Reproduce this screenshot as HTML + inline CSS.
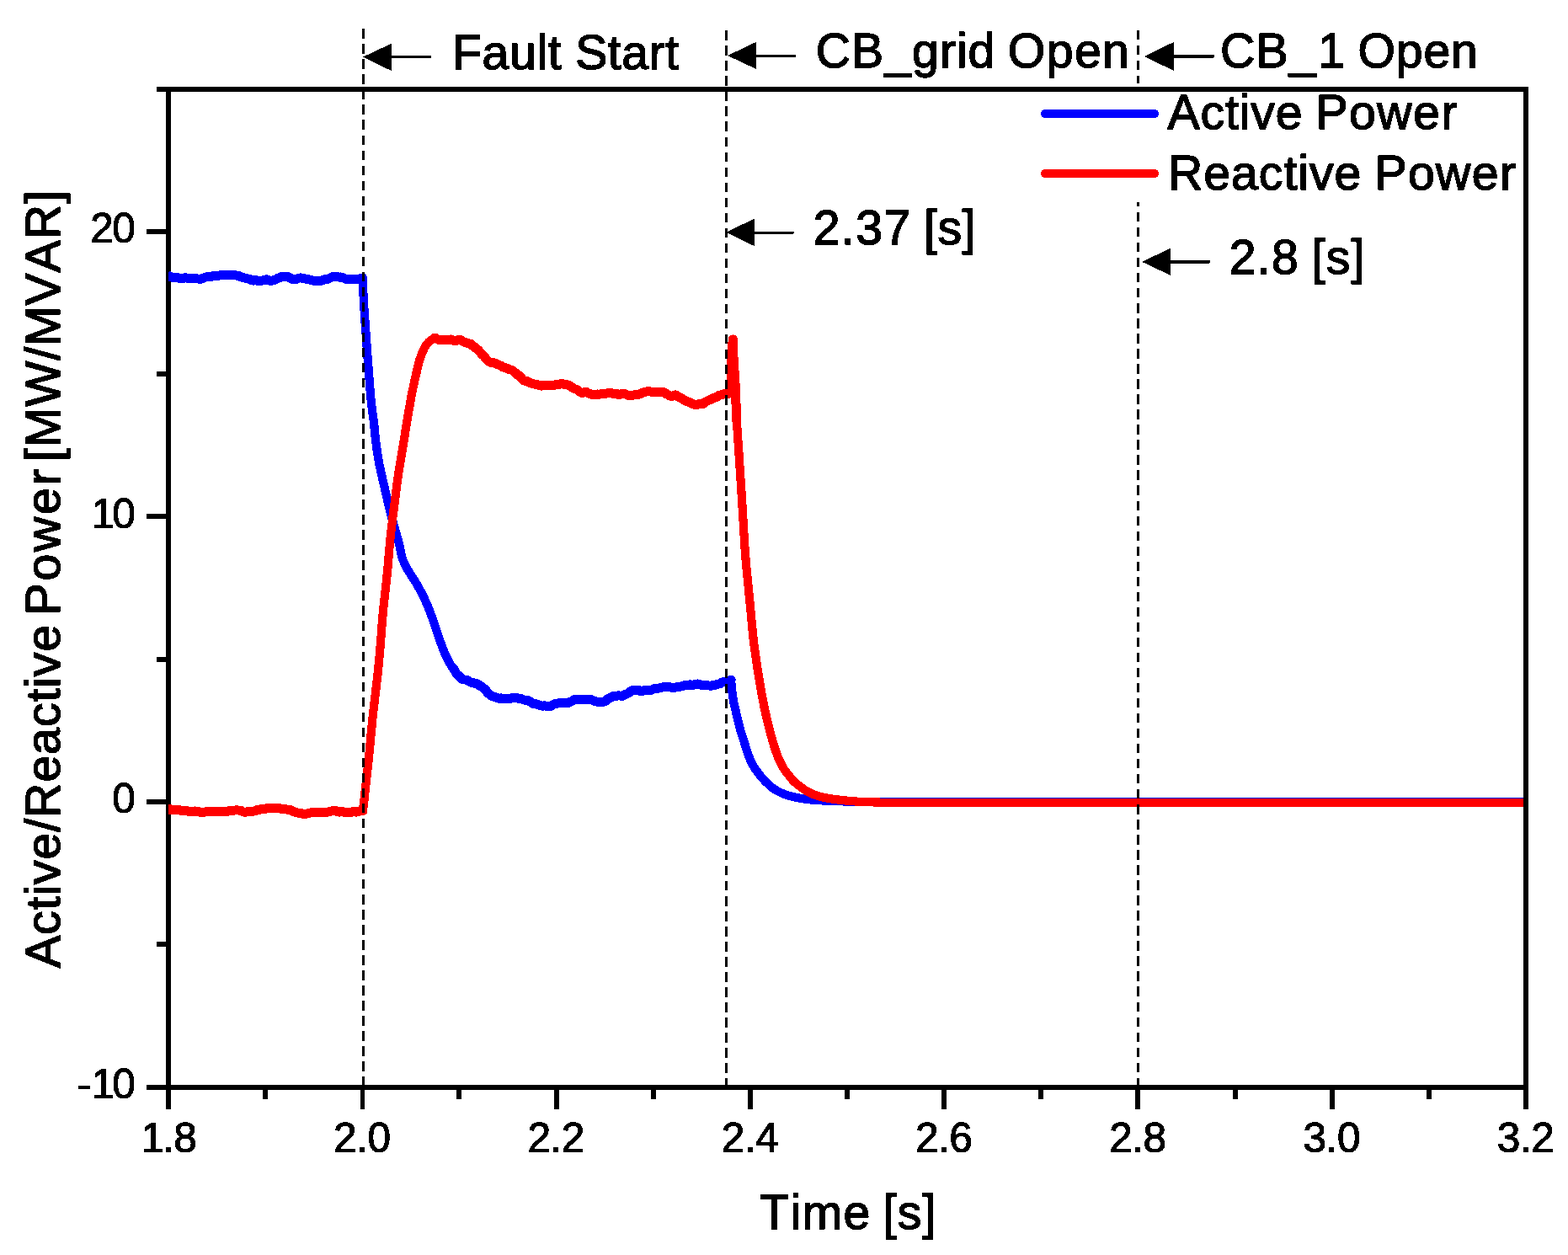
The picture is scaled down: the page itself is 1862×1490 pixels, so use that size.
<!DOCTYPE html>
<html lang="en"><head><meta charset="utf-8"><title>Active/Reactive Power</title>
<style>html,body{margin:0;padding:0;background:#fff}body{width:1862px;height:1490px;overflow:hidden}svg{display:block}text{font-family:"Liberation Sans",sans-serif;fill:#000;stroke:#000;stroke-linejoin:miter;stroke-miterlimit:2;font-kerning:none;white-space:pre}.tk{font-size:49.6px;stroke-width:1.2px}.lb{font-size:57.2px;stroke-width:1.5px}</style></head><body>
<svg width="1862" height="1490" viewBox="0 0 1862 1490">
<rect width="1862" height="1490" fill="#fff"/>
<defs><filter id="al" x="-10%" y="-30%" width="120%" height="160%" color-interpolation-filters="sRGB"><feComponentTransfer><feFuncA type="discrete" tableValues="0 1"/></feComponentTransfer></filter></defs>
<defs><clipPath id="pc"><rect x="200.0" y="106.0" width="1612.0" height="1185.0"/></clipPath></defs>
<g stroke="#000" fill="none" stroke-linecap="butt" shape-rendering="crispEdges">
<line x1="200" y1="103" x2="200" y2="1317" stroke-width="6"/>
<line x1="174" y1="1291" x2="1812" y2="1291" stroke-width="6"/>
<line x1="174" y1="952" x2="200" y2="952" stroke-width="6"/>
<line x1="174" y1="613" x2="200" y2="613" stroke-width="6"/>
<line x1="174" y1="275" x2="200" y2="275" stroke-width="6"/>
<line x1="186" y1="1121" x2="200" y2="1121" stroke-width="6"/>
<line x1="186" y1="783" x2="200" y2="783" stroke-width="6"/>
<line x1="186" y1="444" x2="200" y2="444" stroke-width="6"/>
<line x1="315" y1="1291" x2="315" y2="1305" stroke-width="6"/>
<line x1="430.5" y1="1291" x2="430.5" y2="1317" stroke-width="5"/>
<line x1="545" y1="1291" x2="545" y2="1305" stroke-width="6"/>
<line x1="661" y1="1291" x2="661" y2="1317" stroke-width="6"/>
<line x1="776" y1="1291" x2="776" y2="1305" stroke-width="6"/>
<line x1="891" y1="1291" x2="891" y2="1317" stroke-width="6"/>
<line x1="1006" y1="1291" x2="1006" y2="1305" stroke-width="6"/>
<line x1="1121" y1="1291" x2="1121" y2="1317" stroke-width="6"/>
<line x1="1236" y1="1291" x2="1236" y2="1305" stroke-width="6"/>
<line x1="1351" y1="1291" x2="1351" y2="1317" stroke-width="6"/>
<line x1="1467" y1="1291" x2="1467" y2="1305" stroke-width="6"/>
<line x1="1582" y1="1291" x2="1582" y2="1317" stroke-width="6"/>
<line x1="1697" y1="1291" x2="1697" y2="1305" stroke-width="6"/>
</g>
<g clip-path="url(#pc)" fill="none" stroke-linejoin="round" stroke-linecap="round" shape-rendering="crispEdges">
<g stroke="#0000ff">
<polyline stroke-width="11.0" points="200.0,328.2 202.0,327.9 203.7,328.8 205.5,329.6 207.3,329.8 209.2,329.8 211.0,329.7 212.8,330.3 214.7,330.9 216.6,330.8 218.3,330.1 220.2,329.6 222.0,330.1 223.8,330.3 225.7,330.1 227.6,330.3 229.5,330.3 231.4,330.5 233.3,330.8 235.1,331.0 237.0,331.4 238.9,331.2 240.8,330.4 242.7,329.6 244.6,328.9 246.6,328.7 248.7,329.0 250.5,328.6 252.3,327.8 254.3,327.5 256.3,327.5 258.3,327.5 260.1,327.2 261.9,326.7 263.7,326.6 265.4,326.9 267.4,326.8 269.3,326.2 271.2,326.3 273.0,326.8 274.8,326.8 276.7,326.8 278.5,326.9 280.4,327.0 282.3,327.1 284.1,327.7 285.9,328.7 287.6,329.4 289.5,329.7 291.5,330.2 293.5,330.8 295.5,331.3 297.3,331.8 298.9,332.7 300.7,333.1 302.5,332.7 304.1,332.8 305.9,333.3 307.8,333.2 309.8,333.0 311.9,333.0 313.9,332.5 315.7,331.9 317.5,331.9 319.1,332.7 320.8,333.2 322.7,333.2 324.4,332.9 326.1,332.4 327.8,331.6 329.5,330.5 331.5,329.9 333.3,329.3 334.9,328.4 336.6,328.1 338.5,328.2 340.5,328.5 342.5,328.9 344.3,329.8 345.9,331.0 347.8,331.6 349.6,331.7 351.3,331.5 353.1,330.9 354.8,330.2 356.7,329.9 358.6,330.3 360.4,330.7 362.1,330.9 364.0,331.3 366.0,331.8 368.1,332.1 370.1,332.5 372.0,333.2 373.9,333.5 375.8,333.5 377.6,333.6 379.5,333.6 381.3,333.4 383.0,332.8 384.7,332.0 386.5,331.6 388.3,331.5 390.1,330.9 391.8,330.0 393.5,329.2 395.3,328.5 397.2,328.0 399.1,328.0 400.9,328.6 402.6,329.1 404.4,329.0 406.3,329.2 408.1,330.1 409.8,331.0 411.6,331.5 413.4,331.8 415.3,332.0 417.2,331.6 419.2,331.3 421.1,331.6 422.9,331.9 424.6,331.7 426.0,331.1 427.7,330.8 429.1,330.5 430.5,330.0"/>
<polyline stroke-width="10.2" points="430.5,330.0 430.6,331.9 430.7,333.7 430.8,335.6 430.9,337.4 430.9,339.2 431.0,341.1 431.1,342.9 431.2,344.7 431.3,346.6 431.4,348.4 431.5,350.3 431.6,352.2 431.7,354.1 431.8,356.0 431.9,358.0 432.0,360.0 432.1,361.8 432.2,363.6 432.3,365.4 432.5,367.2 432.6,369.0 432.7,370.9 432.8,372.7 433.0,374.6 433.1,376.5 433.2,378.4 433.4,380.3 433.5,382.2 433.6,384.2 433.8,386.1 433.9,388.1 434.1,390.0 434.2,392.0 434.4,394.0 434.5,396.0 434.7,398.0 434.8,400.0 434.9,401.8 435.1,403.7 435.2,405.6 435.3,407.5 435.5,409.5 435.6,411.4 435.8,413.4 435.9,415.4 436.1,417.4 436.2,419.4 436.3,421.4 436.5,423.4 436.6,425.4 436.8,427.5 436.9,429.5 437.1,431.4 437.2,433.4 437.4,435.4 437.5,437.3 437.7,439.2 437.8,441.1 437.9,443.0 438.1,444.8 438.2,446.6 438.4,448.3 438.5,450.0 438.7,452.1 438.8,454.2 439.0,456.2 439.1,458.2 439.3,460.1 439.5,462.1 439.6,464.0 439.8,465.9 439.9,467.7 440.1,469.5 440.2,471.3 440.4,473.1 440.6,474.9 440.7,476.6 440.9,478.3 441.1,480.0 441.3,482.0 441.6,483.9 441.8,485.7 442.1,487.6 442.3,489.4 442.6,491.1 442.8,492.9 443.1,494.6 443.3,496.4 443.6,498.2 443.8,500.0 444.0,501.8 444.2,503.6 444.4,505.4 444.5,507.3 444.7,509.1 444.8,510.9 445.0,512.7 445.2,514.6 445.4,516.4 445.6,518.4 445.8,520.3 446.0,522.1 446.3,523.9 446.5,525.8 446.7,527.7 447.0,529.6 447.3,531.5 447.5,533.5 447.8,535.4 448.1,537.4 448.4,539.3 448.7,541.3 449.0,543.2 449.4,545.2 449.7,547.1 450.1,549.0 450.4,551.0 450.8,553.0 451.3,555.1 451.7,557.1 452.1,559.1 452.6,561.1 453.0,563.1 453.5,565.1 453.9,567.0 454.3,568.9 454.7,570.6 455.1,572.4 455.5,574.0 456.0,576.1 456.4,578.0 456.8,579.8 457.2,581.6 457.7,583.4 458.1,585.3 458.6,587.4 459.0,589.0 459.4,590.7 459.8,592.5 460.2,594.4 460.7,596.3 461.1,598.2 461.6,600.2 462.0,602.2 462.5,604.3 463.0,606.3 463.5,608.3 464.0,610.3 464.5,612.3 465.0,614.2 465.5,616.2 466.1,618.2 466.7,620.2 467.3,622.3 467.9,624.4 468.5,626.5 469.1,628.6 469.7,630.6 470.3,632.6 470.8,634.5 471.4,636.3 471.8,638.0 472.3,639.6 472.7,641.1 473.2,643.2 473.7,644.9 474.1,646.6 474.5,648.2 474.9,650.0 475.3,651.8 475.6,653.7 476.0,655.6 476.4,657.5 476.8,659.4 477.3,661.2 477.9,662.9 478.4,664.6 479.1,666.2 479.8,667.8 480.5,669.5 481.3,671.1 482.1,672.7 482.9,674.2 483.8,675.8 484.8,677.4 485.7,678.9 486.7,680.5 487.6,682.0 488.5,683.5 489.4,684.9 490.3,686.2 491.3,687.6 492.2,689.1 493.2,690.6 494.2,692.3 495.1,693.8 495.9,695.4 496.9,697.0 497.8,698.7 498.8,700.5 499.7,702.3 500.7,704.2 501.6,706.0 502.6,707.9 503.5,709.8 504.4,711.6 505.2,713.4 506.0,715.1 506.8,716.9 507.5,718.7 508.3,720.4 509.0,722.2 509.7,724.0 510.4,725.7 511.1,727.5 511.7,729.3 512.4,731.0 513.0,732.8 513.7,734.6 514.3,736.4 514.9,738.1 515.5,739.9 516.1,741.6 516.7,743.4 517.2,745.1 517.8,746.9 518.3,748.7 518.9,750.4 519.5,752.2 520.1,753.9 520.7,755.7 521.3,757.5 522.0,759.3 522.6,761.1 523.3,763.0 524.0,764.8 524.6,766.6 525.3,768.4 526.0,770.2 526.7,771.9 527.4,773.6 528.1,775.3 528.8,776.9 529.7,778.9 530.7,780.9 531.7,782.8 532.7,784.7 533.6,786.5 534.6,788.2 535.4,789.6 536.2,790.9 537.1,792.2 538.0,793.3 538.8,794.3"/>
<polyline stroke-width="11.0" points="538.8,794.3 540.0,795.8 540.9,797.6 541.7,799.4 543.0,800.9 544.7,802.1 546.0,803.5 547.2,804.9 548.7,806.1 550.5,806.8 552.6,807.1 554.5,807.6 556.2,808.5 558.0,809.5 559.8,810.2 561.6,810.7 563.4,811.1 565.2,811.4 566.9,811.9 568.4,813.0 569.8,814.2 571.6,814.8 573.0,815.9 574.2,817.3 576.0,818.4 577.5,819.8 578.3,821.8 579.6,823.3 581.4,824.3 582.7,825.7 584.3,826.6 586.2,826.9 587.8,827.7 589.5,828.3 591.3,828.9 593.1,829.3 595.1,828.9 596.8,829.2 598.6,829.7 600.5,829.4 602.4,829.1 604.4,829.4 606.3,829.2 608.1,828.5 610.0,828.1 611.8,828.1 613.8,828.5 615.6,829.3 617.5,829.7 619.5,829.8 621.2,830.6 623.0,831.1 624.9,831.1 626.9,831.6 628.7,832.4 630.3,833.5 631.9,834.9 633.9,835.5 635.6,835.6 637.3,836.2 639.0,836.7 640.8,837.1 642.5,837.9 644.4,838.1 646.2,837.9 647.9,838.0 649.6,838.4 651.5,838.7 653.4,838.6 655.1,837.9 656.6,836.6 658.3,835.9 660.2,835.7 661.9,835.1 663.6,834.8 665.5,834.8 667.3,834.3 669.1,834.1 670.9,834.4 672.7,834.7 674.4,834.6 675.9,833.8 677.6,833.0 679.2,832.5 680.7,831.5 682.2,830.7 684.1,830.5 685.8,830.6 687.5,830.7 689.2,830.5 691.0,830.7 692.9,830.7 694.8,830.1 696.5,830.3 698.2,831.0 700.2,830.8 702.2,830.7 704.1,831.5 705.8,832.3 707.6,832.8 709.3,833.3 711.1,833.5 712.8,833.0 714.5,833.0 716.1,833.2 717.8,832.8 719.3,832.1 720.7,830.9 722.1,829.6 723.9,828.7 725.7,828.0 727.4,827.0 729.2,826.2 731.1,826.2 732.9,826.1 734.8,825.9 736.7,826.1 738.8,826.3 740.5,825.7 742.1,824.6 744.0,823.9 746.0,823.2 747.6,821.9 749.1,820.5 750.8,819.8 752.7,820.0 754.6,819.8 756.5,819.2 758.4,819.5 760.1,820.4 762.0,820.6 763.9,820.1 765.5,819.5 767.3,819.3 769.2,819.4 771.1,819.5 772.9,819.3 774.7,818.6 776.4,817.9 778.1,817.5 779.8,817.0 781.7,817.1 783.4,816.9 785.2,816.2 786.9,815.9 788.7,815.7 790.4,815.6 792.3,815.6 794.2,815.7 796.0,815.9 797.8,816.2 799.7,816.1 801.6,816.1 803.2,815.9 805.0,815.7 806.7,815.3 808.5,815.0 810.3,814.7 812.0,813.9 813.7,813.8 815.5,814.0 817.4,813.4 819.3,812.9 821.2,813.1 823.1,813.2 824.9,812.8 826.7,812.2 828.6,812.0 830.5,812.5 832.3,813.1 834.2,813.4 836.1,813.2 837.9,813.2 839.6,813.7 841.3,813.9 842.9,814.1 844.6,814.1 846.2,813.7 848.0,813.5 850.0,813.2 851.9,812.4 853.9,811.9 855.8,811.3 857.3,810.1 859.1,809.5 860.9,809.8 862.6,810.3 864.1,810.0 865.4,808.7 866.6,807.6 868.1,807.0"/>
<polyline stroke-width="10.2" points="868.1,807.0 868.3,808.9 868.4,810.8 868.6,812.8 868.7,814.7 868.9,816.6 869.1,818.5 869.3,820.4 869.5,822.2 869.7,823.9 870.0,825.6 870.2,827.4 870.5,829.1 870.8,830.8 871.1,832.5 871.4,834.2 871.8,836.0 872.2,837.7 872.6,839.4 873.0,841.1 873.4,842.9 873.8,844.6 874.2,846.3 874.6,848.0 875.0,849.7 875.4,851.5 875.8,853.2 876.2,854.9 876.6,856.6 877.0,858.3 877.5,860.1 877.9,861.8 878.4,863.5 878.8,865.3 879.3,867.0 879.8,868.7 880.4,870.6 880.9,872.4 881.5,874.3 882.1,876.1 882.8,878.0 883.4,880.0 883.9,881.7 884.5,883.4 885.0,885.1 885.5,886.9 886.1,888.8 886.7,890.6 887.3,892.4 887.9,894.1 888.5,895.8 889.2,897.5 889.8,899.2 890.5,900.9 891.2,902.6 892.0,904.2 892.7,905.8 893.4,907.3 894.2,908.7 895.2,910.3 896.1,911.8 897.1,913.2 898.1,914.6 899.2,916.0 900.2,917.4 901.3,918.8 902.3,920.2 903.4,921.6 904.6,923.0 905.7,924.3 906.9,925.6 908.1,926.9 909.3,928.1 910.5,929.3 911.8,930.5 913.0,931.6 914.3,932.7 915.5,933.8 916.8,934.9 918.1,935.8 919.4,936.8 920.8,937.7 922.3,938.6 923.9,939.5 925.5,940.3 927.1,941.1 928.7,941.8 930.3,942.5 932.0,943.1 933.6,943.7 935.3,944.3 937.0,944.8 938.9,945.3 940.8,945.8 942.7,946.2 944.6,946.6 946.5,947.0 948.1,947.3 949.7,947.7 951.4,948.0 953.0,948.3 954.7,948.5 956.4,948.8 958.1,949.0 959.8,949.2 961.6,949.4 963.4,949.5 965.2,949.6 967.0,949.8 968.8,949.9 970.6,950.0 972.4,950.2 974.2,950.3 976.0,950.4 977.9,950.5 979.8,950.6 981.7,950.7 983.5,950.8 985.4,950.9 987.3,950.9 989.2,951.0 991.1,951.1 993.1,951.1 995.0,951.2 997.0,951.2 998.9,951.3 1000.8,951.4 1002.6,951.4 1004.5,951.5 1006.3,951.5 1008.2,951.5 1010.1,951.6 1012.0,951.6 1014.0,951.7 1016.0,951.7 1017.7,951.7 1019.4,951.8 1021.0,951.8 1022.7,951.8 1024.4,951.8 1026.2,951.9 1028.0,951.9 1029.8,951.9 1031.7,951.9 1033.6,952.0 1035.7,952.0 1037.8,952.0 1040.0,952.0 1041.6,952.0 1043.2,952.0 1044.9,952.0 1046.6,952.0 1048.4,952.0 1050.3,952.0 1052.1,952.0 1054.1,952.0 1056.0,952.0 1058.0,952.0 1060.0,952.0 1062.1,952.0 1064.1,952.0 1066.2,952.0 1068.3,952.0 1070.4,952.0 1072.6,952.0 1074.7,952.0 1076.8,952.0 1079.0,952.0 1081.1,952.0 1083.3,952.0 1085.4,952.0 1087.6,952.0 1089.7,952.0 1091.8,952.0 1093.9,952.0 1095.9,952.0 1098.0,952.0 1100.0,952.0"/>
<polyline stroke-width="10.2" points="1100.0,952.0 1812.0,952.0"/>
</g>
<g stroke="#ff0000">
<polyline stroke-width="11.0" points="200.0,961.3 202.0,960.7 204.0,961.3 205.9,961.7 207.9,961.7 209.9,961.4 211.9,961.3 213.8,961.9 215.8,962.7 217.8,963.0 219.7,962.6 221.6,962.5 223.5,963.2 225.4,963.4 227.3,963.2 229.3,963.2 231.3,963.0 233.2,963.1 235.1,963.5 237.0,963.9 238.9,964.6 240.8,964.7 242.7,964.2 244.6,963.7 246.5,963.4 248.4,963.5 250.3,964.0 252.2,963.8 254.1,963.2 256.0,963.2 257.9,963.5 259.8,963.8 261.7,963.7 263.6,963.4 265.6,963.4 267.5,963.7 269.5,963.6 271.4,962.7 273.3,962.5 275.2,962.6 277.1,962.2 278.9,962.0 280.8,961.9 282.7,962.0 284.6,962.1 286.5,962.6 288.3,963.6 290.1,964.1 291.9,964.1 293.8,963.9 295.5,963.8 297.2,963.4 298.9,963.1 300.8,963.2 302.6,962.9 304.2,961.8 305.9,961.3 307.8,961.3 309.6,960.9 311.5,960.7 313.3,960.9 315.0,960.6 316.8,959.8 318.6,959.5 320.6,959.8 322.5,959.8 324.3,959.7 326.2,959.6 328.0,959.7 329.7,959.7 331.5,959.6 333.2,960.0 335.0,960.5 336.7,960.4 338.5,960.7 340.2,961.0 342.0,961.2 343.8,961.3 345.5,961.8 347.1,963.0 348.8,963.7 350.5,964.3 352.3,964.9 354.1,965.1 355.9,965.1 357.6,965.4 359.3,966.1 361.1,966.4 362.9,966.3 364.7,966.0 366.4,965.6 368.1,965.1 369.8,964.6 371.6,964.6 373.6,964.5 375.6,964.2 377.6,964.3 379.5,964.5 381.5,964.7 383.5,964.4 385.5,964.0 387.2,964.0 389.0,964.1 390.7,963.8 392.5,963.3 394.2,962.9 396.0,962.7 397.7,962.6 399.5,962.9 401.2,963.7 403.0,964.1 404.8,963.8 406.6,963.7 408.4,964.1 410.1,964.5 411.8,964.7 413.5,964.8 415.5,964.7 417.4,964.1 419.3,963.6 421.2,963.8 423.0,964.1 424.7,963.8 426.3,963.2 427.9,963.0 429.5,962.8 431.0,962.5"/>
<polyline stroke-width="10.2" points="431.0,962.5 431.2,960.6 431.4,958.7 431.6,956.8 431.8,955.0 432.0,953.1 432.3,951.2 432.5,949.4 432.7,947.4 432.9,945.4 433.1,943.4 433.4,941.3 433.6,939.1 433.8,937.4 434.0,935.7 434.2,933.9 434.4,932.1 434.6,930.2 434.8,928.3 435.0,926.4 435.2,924.4 435.5,922.4 435.7,920.4 435.9,918.4 436.1,916.4 436.4,914.3 436.6,912.3 436.8,910.2 437.0,908.2 437.2,906.1 437.5,904.1 437.7,902.1 437.9,900.1 438.1,898.1 438.3,896.1 438.5,894.2 438.7,892.2 438.9,890.3 439.1,888.4 439.2,886.5 439.4,884.6 439.6,882.7 439.8,880.9 439.9,879.0 440.1,877.1 440.3,875.2 440.5,873.3 440.6,871.4 440.8,869.4 441.0,867.5 441.2,865.5 441.4,863.5 441.6,861.5 441.8,859.5 442.0,857.4 442.2,855.3 442.4,853.2 442.6,851.4 442.8,849.6 443.0,847.8 443.2,846.0 443.4,844.2 443.6,842.3 443.8,840.4 444.0,838.5 444.3,836.6 444.5,834.6 444.7,832.7 444.9,830.7 445.2,828.8 445.4,826.8 445.7,824.8 445.9,822.8 446.1,820.8 446.4,818.8 446.6,816.8 446.8,814.8 447.1,812.8 447.3,810.8 447.5,808.7 447.8,806.7 448.0,804.7 448.2,802.7 448.5,800.7 448.7,798.7 448.9,796.7 449.1,794.7 449.3,792.7 449.5,790.8 449.7,788.8 449.9,786.8 450.1,784.9 450.3,782.9 450.4,780.9 450.6,778.9 450.8,776.9 451.0,774.9 451.1,772.9 451.3,770.9 451.5,768.9 451.6,766.9 451.8,764.9 451.9,762.9 452.1,760.9 452.3,758.9 452.4,756.9 452.6,754.9 452.7,752.9 452.9,750.9 453.0,748.9 453.2,746.9 453.3,745.0 453.5,743.0 453.6,741.1 453.8,739.2 454.0,737.3 454.1,735.4 454.3,733.5 454.4,731.6 454.6,729.8 454.8,728.0 454.9,726.2 455.1,724.4 455.3,722.3 455.5,720.2 455.7,718.2 455.9,716.1 456.1,714.1 456.4,712.2 456.6,710.2 456.8,708.2 457.0,706.3 457.2,704.4 457.4,702.5 457.7,700.6 457.9,698.7 458.1,696.8 458.3,694.9 458.5,693.0 458.7,691.2 458.9,689.3 459.1,687.4 459.3,685.6 459.5,683.7 459.7,681.9 459.9,680.0 460.1,678.0 460.3,676.0 460.5,674.0 460.6,672.1 460.8,670.1 461.0,668.2 461.1,666.2 461.3,664.3 461.4,662.4 461.6,660.4 461.7,658.5 461.9,656.6 462.1,654.7 462.2,652.7 462.4,650.8 462.6,648.9 462.7,646.9 462.9,645.0 463.1,643.1 463.3,641.1 463.5,639.2 463.7,637.3 463.9,635.4 464.1,633.5 464.3,631.5 464.6,629.6 464.8,627.7 465.0,625.8 465.2,623.9 465.5,621.9 465.7,620.0 465.9,618.1 466.2,616.2 466.4,614.3 466.6,612.3 466.9,610.4 467.1,608.5 467.4,606.6 467.6,604.6 467.9,602.7 468.1,600.8 468.3,598.9 468.6,597.0 468.8,595.0 469.1,593.1 469.3,591.2 469.6,589.3 469.8,587.4 470.1,585.4 470.3,583.5 470.6,581.6 470.8,579.7 471.1,577.8 471.3,575.8 471.6,573.9 471.9,572.0 472.1,570.1 472.4,568.2 472.7,566.2 472.9,564.3 473.2,562.4 473.5,560.5 473.8,558.6 474.1,556.6 474.4,554.6 474.7,552.6 475.0,550.6 475.4,548.6 475.7,546.6 476.0,544.6 476.4,542.5 476.7,540.5 477.0,538.5 477.4,536.6 477.7,534.6 478.0,532.7 478.4,530.8 478.7,528.9 479.0,527.1 479.3,525.3 479.6,523.6 479.8,521.9 480.1,520.3 480.4,518.2 480.8,516.2 481.1,514.3 481.3,512.4 481.6,510.6 481.9,508.8 482.2,507.1 482.4,505.3 482.7,503.6 483.0,501.8 483.3,500.0 483.6,498.2 483.9,496.3 484.2,494.5 484.5,492.7 484.9,490.9 485.2,489.0 485.5,487.2 485.8,485.4 486.1,483.6 486.5,481.8 486.8,480.0 487.1,478.1 487.5,476.2 487.8,474.3 488.2,472.4 488.5,470.5 488.9,468.7 489.2,466.8 489.6,464.9 490.0,462.9 490.4,461.0 490.8,459.2 491.2,457.3 491.6,455.4 492.0,453.4 492.5,451.4 492.9,449.5 493.4,447.5 493.8,445.7 494.2,443.9 494.6,442.1 495.0,440.6 495.3,439.1 495.7,437.2 496.0,435.6 496.4,434.1 496.7,432.6 497.1,431.1 497.6,429.3 498.2,427.5 498.9,425.8 499.5,424.1 500.1,422.4 500.7,420.8 501.3,419.1 502.0,417.5 502.7,415.9 503.3,414.4 504.1,412.9 504.9,411.4 505.8,410.0 506.8,408.7 507.9,407.4 509.1,406.1 510.3,405.0 511.7,404.0 513.1,403.1 514.5,402.1 515.9,401.1"/>
<polyline stroke-width="11.0" points="515.9,401.1 517.6,401.6 519.3,402.6 520.9,403.6 522.8,403.8 524.6,403.5 526.4,403.6 528.1,403.9 529.9,403.9 531.7,403.7 533.6,403.2 535.4,403.0 537.0,403.5 538.7,404.3 540.4,404.7 542.0,404.3 543.6,403.7 545.4,403.3 547.4,403.7 549.1,404.9 550.8,406.1 552.6,406.3 554.4,407.0 556.0,407.8 558.0,408.0 559.6,408.6 560.6,410.1 561.9,411.1 563.6,411.7 564.7,413.0 566.1,414.3 567.8,415.4 569.1,416.9 570.4,418.5 571.6,420.1 572.8,421.4 574.5,422.4 575.6,423.9 576.4,425.6 577.7,426.7 578.9,427.7 580.3,429.2 582.1,430.1 584.0,430.2 585.9,430.6 587.7,431.2 589.4,431.8 591.0,432.8 592.7,433.4 594.3,433.9 595.6,434.9 596.9,435.8 598.6,436.2 600.0,436.7 601.6,437.1 603.3,437.7 604.9,438.6 606.6,439.1 608.2,439.5 609.6,440.7 611.0,441.9 612.5,443.1 613.6,444.6 615.2,445.5 616.9,446.3 618.2,447.4 619.3,448.9 620.4,450.3 621.8,451.6 623.4,452.3 625.3,452.5 627.0,453.1 628.4,454.2 630.1,454.6 631.9,455.2 633.5,456.0 635.4,456.1 637.3,456.4 639.1,457.1 641.0,457.8 643.0,458.1 645.0,457.7 647.0,457.5 648.9,457.7 650.9,457.4 652.8,457.1 654.8,457.2 656.8,457.3 658.8,457.1 660.7,456.5 662.7,456.4 664.6,456.2 666.6,455.5 668.6,455.9 670.5,456.8 672.6,456.9 674.6,457.0 676.3,457.9 677.8,459.0 679.3,459.9 680.8,460.9 682.5,461.7 684.5,462.2 686.3,463.4 687.8,464.9 689.5,465.8 691.1,466.4 693.0,466.1 694.8,465.5 696.8,465.7 698.4,466.7 700.3,467.4 702.1,468.0 703.8,468.6 705.5,468.6 707.3,468.1 709.3,468.0 711.5,468.2 713.5,467.8 715.3,467.3 717.2,467.3 719.1,467.4 720.9,466.9 722.8,466.2 724.6,466.2 726.6,467.1 728.6,467.5 730.8,467.2 732.7,467.7 734.4,468.5 736.3,468.4 737.9,467.8 739.8,467.3 741.6,467.5 743.5,468.3 745.5,469.2 747.5,469.7 749.6,469.5 751.5,469.1 753.5,468.8 755.4,468.3 757.3,468.4 759.3,468.1 760.9,467.2 762.6,466.5 764.4,465.9 766.2,465.3 768.0,464.9 769.8,464.6 771.7,464.8 773.5,465.1 775.3,465.2 777.1,465.5 778.9,465.7 780.7,465.7 782.6,465.6 784.4,465.6 786.3,465.7 788.1,465.6 789.8,466.4 791.1,467.7 792.7,468.4 794.2,469.0 795.5,470.1 797.4,470.5 799.3,470.0 800.9,469.2 802.6,468.9 803.9,469.8 805.1,470.8 806.5,471.7 808.2,472.3 809.7,473.0 811.2,474.2 812.9,475.2 814.6,476.2 816.3,477.0 818.3,477.4 819.8,478.2 821.3,479.1 823.0,479.7 824.6,480.4 826.3,480.9 827.8,480.3 829.6,479.8 831.5,479.8 833.5,479.8 835.1,479.2 836.6,478.0 838.2,477.0 839.8,476.1 841.4,475.2 843.3,474.6 845.1,473.8 846.7,472.8 848.6,472.3 850.4,471.7 851.9,470.7 853.4,469.5 855.2,469.0 856.9,468.8 858.4,468.0 860.5,467.5 862.4,467.2 864.1,467.1 865.5,467.2 866.8,466.8"/>
<polyline stroke-width="11.0" points="866.8,466.8 868.1,456.0 868.3,445.0 868.7,432.0 869.2,422.0 869.9,408.0 870.3,402.9 870.8,408.0 870.9,422.0 871.8,437.5 872.9,452.6 873.4,463.8 873.8,475.0 874.4,488.0 874.9,500.0"/>
<polyline stroke-width="10.2" points="874.9,500.0 875.0,501.9 875.2,503.8 875.3,505.7 875.4,507.6 875.5,509.4 875.7,511.3 875.8,513.2 875.9,515.0 876.0,516.9 876.2,518.8 876.3,520.6 876.4,522.5 876.5,524.4 876.7,526.3 876.8,528.3 876.9,530.2 877.1,532.2 877.2,534.2 877.3,536.2 877.5,538.3 877.6,540.4 877.7,542.2 877.8,544.0 878.0,545.8 878.1,547.6 878.2,549.4 878.3,551.3 878.4,553.2 878.6,555.1 878.7,557.0 878.8,559.0 878.9,560.9 879.1,562.9 879.2,564.8 879.3,566.8 879.5,568.8 879.6,570.8 879.7,572.8 879.8,574.8 880.0,576.8 880.1,578.8 880.2,580.8 880.4,582.8 880.5,584.8 880.6,586.8 880.7,588.8 880.9,590.8 881.0,592.8 881.1,594.8 881.3,596.8 881.4,598.7 881.5,600.7 881.6,602.6 881.7,604.6 881.9,606.5 882.0,608.5 882.1,610.4 882.2,612.4 882.3,614.3 882.4,616.3 882.6,618.2 882.7,620.2 882.8,622.1 882.9,624.1 883.0,626.0 883.1,628.0 883.2,629.9 883.3,631.9 883.5,633.8 883.6,635.8 883.7,637.7 883.8,639.7 883.9,641.6 884.1,643.6 884.2,645.5 884.3,647.5 884.4,649.4 884.6,651.4 884.7,653.3 884.9,655.3 885.0,657.2 885.1,659.2 885.3,661.1 885.5,663.1 885.6,665.0 885.8,667.0 886.0,669.0 886.1,671.0 886.3,673.0 886.5,675.0 886.7,677.0 886.9,679.0 887.1,681.1 887.3,683.1 887.5,685.1 887.7,687.1 887.9,689.1 888.1,691.1 888.3,693.2 888.5,695.1 888.7,697.1 888.9,699.1 889.1,701.1 889.3,703.0 889.5,705.0 889.6,706.9 889.8,708.8 890.0,710.7 890.2,712.5 890.4,714.4 890.6,716.2 890.8,718.0 890.9,719.8 891.1,721.5 891.3,723.6 891.5,725.7 891.7,727.8 891.9,729.9 892.1,731.9 892.3,734.0 892.4,736.0 892.6,738.0 892.8,739.9 893.0,741.8 893.1,743.8 893.3,745.7 893.5,747.5 893.7,749.4 893.9,751.2 894.0,753.0 894.2,754.8 894.4,756.6 894.6,758.3 894.8,760.0 895.0,762.0 895.3,764.0 895.5,766.0 895.8,767.9 896.0,769.7 896.3,771.6 896.5,773.4 896.8,775.2 897.0,776.9 897.3,778.7 897.6,780.5 897.8,782.4 898.1,784.2 898.4,786.1 898.7,787.9 898.9,789.8 899.2,791.6 899.5,793.5 899.8,795.3 900.1,797.2 900.4,799.0 900.7,800.9 901.0,802.7 901.3,804.6 901.6,806.4 901.9,808.3 902.2,810.2 902.5,812.0 902.8,813.9 903.1,815.7 903.4,817.6 903.8,819.5 904.1,821.3 904.4,823.2 904.7,825.1 905.0,826.9 905.4,828.8 905.7,830.6 906.1,832.5 906.5,834.4 906.8,836.2 907.2,838.1 907.6,839.9 908.0,841.8 908.4,843.7 908.8,845.5 909.2,847.4 909.7,849.2 910.1,851.1 910.5,852.9 911.0,854.8 911.4,856.6 911.8,858.4 912.3,860.3 912.8,862.1 913.2,863.9 913.7,865.8 914.2,867.6 914.6,869.4 915.1,871.2 915.6,873.0 916.1,874.8 916.6,876.6 917.1,878.3 917.6,880.0 918.2,882.0 918.8,883.9 919.3,885.8 919.9,887.7 920.5,889.6 921.1,891.4 921.7,893.2 922.4,895.0 923.0,896.7 923.7,898.4 924.5,900.2 925.2,902.0 926.0,903.7 926.8,905.4 927.6,907.1 928.5,908.7 929.3,910.2 930.2,911.7 931.2,913.3 932.3,914.8 933.4,916.2 934.4,917.6 935.5,918.9 936.6,920.3 937.8,921.8 938.9,923.3 940.1,924.8 941.3,926.2 942.6,927.6 943.9,928.8 945.2,929.9 946.6,931.0 948.0,932.1 949.4,933.2 950.8,934.2 952.3,935.4 953.9,936.5 955.4,937.6 956.9,938.6 958.5,939.6 960.1,940.5 961.7,941.3 963.3,942.1 964.9,942.8 966.7,943.5 968.2,944.0 969.8,944.5 971.5,945.0 973.2,945.5 974.9,945.9 976.6,946.3 978.3,946.7 980.0,947.1 981.8,947.4 983.6,947.8 985.3,948.1 987.1,948.4 988.9,948.6 990.7,948.9 992.5,949.2 994.3,949.4 996.1,949.6 997.9,949.8 999.7,950.0 1001.5,950.2 1003.4,950.4 1005.2,950.6 1007.0,950.7 1008.9,950.9 1010.7,951.1 1012.6,951.2 1014.4,951.3 1016.2,951.5 1018.0,951.6 1019.7,951.7 1021.3,951.8 1022.9,951.9 1024.5,952.0 1026.1,952.1 1028.0,952.1 1030.0,952.2 1031.5,952.2 1033.1,952.3 1034.8,952.3 1036.5,952.4 1038.4,952.4 1040.3,952.5 1042.3,952.5 1044.3,952.6 1046.4,952.6 1048.4,952.7 1050.5,952.7 1052.7,952.7 1054.8,952.8 1056.9,952.8 1059.0,952.8 1061.0,952.9 1063.0,952.9 1065.0,952.9 1066.9,952.9 1068.9,952.9 1070.8,953.0 1072.7,953.0 1074.7,953.0 1076.6,953.0 1078.5,953.0 1080.4,953.0 1082.4,953.0 1084.3,953.0 1086.2,953.0 1088.2,953.0 1090.1,953.0 1092.1,953.0 1094.0,953.0 1096.0,953.0 1098.0,953.0 1100.0,953.0 1101.9,953.0 1103.9,953.0 1105.9,953.0 1107.8,953.0 1109.8,953.0 1111.8,953.0 1113.8,953.0 1115.8,953.0 1117.8,953.0 1119.8,953.0 1121.9,953.0 1123.9,953.0 1125.9,953.0 1127.9,953.0 1129.9,953.0 1132.0,953.0 1134.0,953.0 1136.0,953.0 1138.0,953.0 1140.0,953.0"/>
<polyline stroke-width="10.2" points="1140.0,953.0 1812.0,953.0"/>
</g>
</g>
<g stroke="#000" stroke-width="3" fill="none" stroke-dasharray="11.5 6.53" shape-rendering="crispEdges">
<line x1="431.5" y1="34.3" x2="431.5" y2="1291.0"/>
<line x1="862.5" y1="36.3" x2="862.5" y2="1291.0"/>
<line x1="1351.5" y1="35.59" x2="1351.5" y2="1291.0" stroke-dasharray="11.4 6.63"/>
</g>
<rect x="1228" y="99" width="581" height="141" fill="#fff"/>
<g fill="none" stroke-linecap="round" stroke-width="10" shape-rendering="crispEdges">
<line x1="1241" y1="135" x2="1371" y2="135" stroke="#0000ff"/>
<line x1="1241" y1="206" x2="1371" y2="206" stroke="#ff0000"/>
</g>
<text class="lb" filter="url(#al)" x="1386.5 1425.5 1455.0 1471.7 1485.2 1514.7 1546.5 1562.4 1602.0 1635.3 1678.1 1711.5" y="153">Active Power</text>
<text class="lb" filter="url(#al)" x="1386.9 1429.2 1462.0 1494.8 1524.4 1541.3 1555.0 1584.6 1616.4 1632.4 1671.9 1705.1 1747.8 1781.1" y="225">Reactive Power</text>
<g stroke="#000" fill="none" stroke-linecap="butt">
<line x1="186.0" y1="106.0" x2="1815.0" y2="106.0" stroke-width="6"/>
<line x1="1812.0" y1="106.0" x2="1812.0" y2="1317.0" stroke-width="6"/>
</g>
<text class="tk" filter="url(#al)" x="107.2 133.3" y="288">20</text>
<text class="tk" filter="url(#al)" x="108.5 133.3" y="627">10</text>
<text class="tk" filter="url(#al)" x="133.3" y="965">0</text>
<text class="tk" filter="url(#al)" x="91.8 108.5 133.3" y="1304">-10</text>
<text class="tk" filter="url(#al)" x="167.4 192.9 206.2" y="1368">1.8</text>
<text class="tk" filter="url(#al)" x="396.1 423.2 436.5" y="1368">2.0</text>
<text class="tk" filter="url(#al)" x="626.4 653.5 666.7" y="1368">2.2</text>
<text class="tk" filter="url(#al)" x="856.7 883.7 897.0" y="1368">2.4</text>
<text class="tk" filter="url(#al)" x="1086.9 1114.0 1127.3" y="1368">2.6</text>
<text class="tk" filter="url(#al)" x="1317.2 1344.3 1357.6" y="1368">2.8</text>
<text class="tk" filter="url(#al)" x="1547.5 1574.6 1587.9" y="1368">3.0</text>
<text class="tk" filter="url(#al)" x="1777.8 1804.9 1818.2" y="1368">3.2</text>
<text class="lb" filter="url(#al)" x="902.1 938.4 952.5 1001.5 1033.3 1048.6 1065.8 1095.6" y="1459">Time [s]</text>
<text class="lb" filter="url(#al)" x="-1149.1 -1110.0 -1080.4 -1063.6 -1050.0 -1020.4 -987.7 -970.9 -928.6 -895.9 -863.1 -833.6 -816.8 -803.2 -773.6 -741.8 -730.4 -689.5 -655.0 -610.9 -576.3 -557.3 -548.1 -531.3 -482.7 -427.8 -411.0 -362.4 -323.4 -284.3 -242.1" y="0" transform="translate(70.8 0) rotate(-90)">Active/Reactive Power [MW/MVAR]</text>
<g shape-rendering="crispEdges"><polygon points="431,67.6 465,51.6 465,84.2" fill="#000"/><line x1="464" y1="67.5" x2="510.5" y2="67.5" stroke="#000" stroke-width="3" stroke-linecap="round"/></g>
<text class="lb" filter="url(#al)" x="537.1 572.6 605.0 637.4 650.7 666.6 683.2 721.8 738.2 770.5 790.1" y="82">Fault Start</text>
<g shape-rendering="crispEdges"><polygon points="864,66 898,49.8 898,82" fill="#000"/><line x1="897" y1="66.5" x2="943.5" y2="66.5" stroke="#000" stroke-width="3" stroke-linecap="round"/></g>
<text class="lb" filter="url(#al)" x="968.8 1011.1 1050.3 1083.1 1115.9 1135.9 1149.6 1181.4 1196.8 1242.7 1275.9 1309.1" y="80">CB_grid Open</text>
<g shape-rendering="crispEdges"><polygon points="1359,67 1394,49.8 1394,84.1" fill="#000"/><line x1="1393" y1="67" x2="1440.0" y2="67" stroke="#000" stroke-width="4" stroke-linecap="round"/></g>
<text class="lb" filter="url(#al)" x="1449.0 1491.5 1530.9 1564.9 1596.7 1612.4 1657.8 1690.4 1723.1" y="80">CB_1 Open</text>
<g shape-rendering="crispEdges"><polygon points="862,275.8 895.8,259.7 895.8,292.1" fill="#000"/><line x1="894.8" y1="276" x2="941.8" y2="276" stroke="#000" stroke-width="3" stroke-linecap="round"/></g>
<text class="lb" filter="url(#al)" x="965.7 998.9 1016.3 1049.5 1081.3 1096.9 1113.5 1142.8" y="290">2.37 [s]</text>
<g shape-rendering="crispEdges"><polygon points="1356,310.8 1390,294.7 1390,326.9" fill="#000"/><line x1="1389" y1="311" x2="1435.0" y2="311" stroke="#000" stroke-width="4" stroke-linecap="round"/></g>
<text class="lb" filter="url(#al)" x="1459.7 1492.8 1509.9 1541.7 1557.7 1574.8 1604.7" y="325">2.8 [s]</text>
</svg></body></html>
